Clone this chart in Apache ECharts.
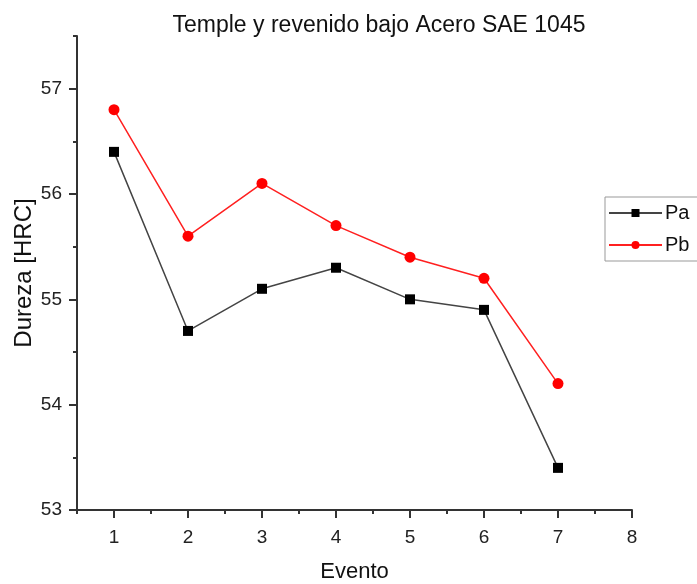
<!DOCTYPE html>
<html><head><meta charset="utf-8">
<script src="https://cdn.jsdelivr.net/npm/echarts@6/dist/echarts.min.js"></script>
<style>html,body{margin:0;padding:0;background:#fff}#c{width:697px;height:584px}</style>
</head><body><div id="c"></div>
<script>
const eventos = [1, 2, 3, 4, 5, 6, 7];
const pa = [56.4, 54.7, 55.1, 55.3, 55.0, 54.9, 53.4];
const pb = [56.8, 55.6, 56.1, 55.7, 55.4, 55.2, 54.2];
const xTicks = [1, 2, 3, 4, 5, 6, 7, 8];
const yTicks = [53, 54, 55, 56, 57];
const title = 'Temple y revenido bajo Acero SAE 1045';
const xName = 'Evento';
const yName = 'Dureza [HRC]';

const font = 'Arial, "Liberation Sans", sans-serif';
const chart = echarts.init(document.getElementById('c'), null, {renderer: 'canvas'});
const axC = '#333';
const lbl = {color: '#222', fontSize: 19, fontFamily: font};
chart.setOption({
  animation: false,
  backgroundColor: '#fff',
  title: {text: title, left: 374, textAlign: 'center', top: 9,
    textStyle: {fontSize: 23, fontWeight: 'normal', color: '#111', fontFamily: font}},
  grid: {left: 77, right: 65, top: 36, bottom: 74, containLabel: false, outerBoundsMode: 'none'},
  legend: {
    left: 605, top: 197, orient: 'vertical', itemWidth: 53, itemHeight: 10, itemGap: 12,
    padding: [6, 40, 6, 3], borderColor: '#999', borderWidth: 1,
    textStyle: {fontSize: 20, color: '#111', fontFamily: font, padding: [0, 0, 0, -2]},
    data: ['Pa', 'Pb']
  },
  xAxis: [
    {type: 'value', min: 0.5, max: 8, interval: 0.5,
      name: xName, nameLocation: 'middle', nameGap: 51, nameMoveOverlap: false,
      nameTextStyle: {color: '#111', fontSize: 22, fontFamily: font},
      axisLine: {show: true, lineStyle: {color: axC, width: 2}},
      axisTick: {show: true, length: 4, lineStyle: {color: axC, width: 2}},
      axisLabel: Object.assign({}, lbl, {margin: 18, customValues: xTicks}),
      splitLine: {show: false}},
    {type: 'value', min: 0.5, max: 8, position: 'bottom',
      axisLine: {show: false},
      axisTick: {show: true, length: 8, customValues: xTicks, lineStyle: {color: axC, width: 2}},
      axisLabel: {show: false}, splitLine: {show: false}}
  ],
  yAxis: [
    {type: 'value', min: 53, max: 57.5, interval: 0.5,
      name: yName, nameLocation: 'middle', nameGap: 41, nameMoveOverlap: false,
      nameTextStyle: {color: '#111', fontSize: 24, fontFamily: font},
      axisLine: {show: true, lineStyle: {color: axC, width: 2}},
      axisTick: {show: true, length: 4, lineStyle: {color: axC, width: 2}},
      axisLabel: Object.assign({}, lbl, {margin: 15, customValues: yTicks}),
      splitLine: {show: false}},
    {type: 'value', min: 53, max: 57.5, position: 'left',
      axisLine: {show: false},
      axisTick: {show: true, length: 8, customValues: yTicks, lineStyle: {color: axC, width: 2}},
      axisLabel: {show: false}, splitLine: {show: false}}
  ],
  series: [
    {name: 'Pa', type: 'line', data: eventos.map((x, i) => [x, pa[i]]),
      symbol: 'rect', symbolSize: 10, color: '#000',
      lineStyle: {color: '#444', width: 1.5}, itemStyle: {color: '#000'}},
    {name: 'Pb', type: 'line', data: eventos.map((x, i) => [x, pb[i]]),
      symbol: 'circle', symbolSize: 11, color: '#ff0000',
      lineStyle: {color: '#ff2020', width: 1.5}, itemStyle: {color: '#ff0000'}}
  ]
});
</script></body></html>
